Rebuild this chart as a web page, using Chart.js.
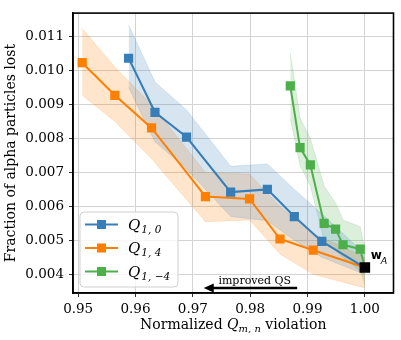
<!DOCTYPE html>
<html>
<head>
<meta charset="utf-8">
<script src="https://cdn.jsdelivr.net/npm/chart.js@4.4.0/dist/chart.umd.min.js"></script>
<style>
  html, body { margin: 0; padding: 0; background: #fff; }
  canvas { display: block; }
</style>
</head>
<body>
<canvas id="lossChart" width="401" height="340"></canvas>
<script>
// x: normalized Q_{m,n} violation, y: fraction of alpha particles lost
const q10X  = [0.9588, 0.9634, 0.9689, 0.9766, 0.9830, 0.9877, 0.9925, 1.0000];
const q10Y  = [0.01036, 0.00877, 0.00804, 0.00642, 0.00650, 0.00570, 0.00497, 0.00420];
const q10Hi = [0.01134, 0.00966, 0.00884, 0.00718, 0.00725, 0.00650, 0.00578, 0.00460];
const q10Lo = [0.00950, 0.00790, 0.00710, 0.00570, 0.00558, 0.00500, 0.00450, 0.00400];

const q14X  = [0.9507, 0.9564, 0.9628, 0.9722, 0.9799, 0.9852, 0.9910, 1.0000];
const q14Y  = [0.01023, 0.00927, 0.00831, 0.00629, 0.00622, 0.00504, 0.00471, 0.00420];
const q14Hi = [0.01124, 0.01010, 0.00900, 0.00700, 0.00695, 0.00600, 0.00520, 0.00450];
const q14Lo = [0.00927, 0.00850, 0.00740, 0.00555, 0.00560, 0.00460, 0.00400, 0.00360];

const q1m4X  = [0.9870, 0.9887, 0.9905, 0.9929, 0.9949, 0.9962, 0.9992, 1.0000];
const q1m4Y  = [0.00955, 0.00773, 0.00722, 0.00550, 0.00533, 0.00487, 0.00474, 0.00420];
const q1m4Hi = [0.01052, 0.00860, 0.00800, 0.00660, 0.00610, 0.00560, 0.00540, 0.00470];
const q1m4Lo = [0.00860, 0.00720, 0.00660, 0.00500, 0.00470, 0.00450, 0.00410, 0.00370];

// the reference configuration w_A
const wAX = [1.0];
const wAY = [0.0042];

const xTicks = [0.95, 0.96, 0.97, 0.98, 0.99, 1.00];
const yTicks = [0.004, 0.005, 0.006, 0.007, 0.008, 0.009, 0.010, 0.011];

const seriesLabels = ['1, 0', '1, 4', '1, \u22124'];

const BLUE = '#377eb8', ORANGE = '#ff7f00', GREEN = '#4daf4a';
const SERIF = '"DejaVu Serif", serif';

function pts(xs, ys) {
    return xs.map((x, i) => ({ x: x, y: ys[i] }));
}

function bandSets(xs, hi, lo, rgb) {
    const common = {
        pointRadius: 0,
        borderWidth: 0.8,
        borderColor: `rgba(${rgb},0.2)`,
        backgroundColor: `rgba(${rgb},0.2)`,
        order: 3
    };
    return [
        { ...common, data: pts(xs, hi), fill: '+1' },
        { ...common, data: pts(xs, lo), fill: false }
    ];
}

function lineSet(xs, ys, color) {
    return {
        data: pts(xs, ys),
        borderColor: color,
        backgroundColor: color,
        borderWidth: 2,
        fill: false,
        pointStyle: 'rect',
        pointRadius: ctx => ctx.dataIndex === xs.length - 1 ? 0 : 6.5,
        pointBorderWidth: 0,
        pointBackgroundColor: color,
        order: 1
    };
}

// frame, legend, x title, arrow note and w_A label
const decorations = {
    id: 'decorations',
    afterDatasetsDraw(chart) {
        const ctx = chart.ctx;
        const ca = chart.chartArea;
        const xs = chart.scales.x, ys = chart.scales.y;
        ctx.save();

        // frame
        ctx.strokeStyle = '#000';
        ctx.lineWidth = 1.6;
        ctx.strokeRect(ca.left, ca.top, ca.right - ca.left, ca.bottom - ca.top);

        // legend
        const bx = ca.left + 7, by = ca.bottom - 81, bw = 98, bh = 75;
        ctx.beginPath();
        ctx.roundRect(bx, by, bw, bh, 4);
        ctx.fillStyle = 'rgba(255,255,255,0.8)';
        ctx.fill();
        ctx.strokeStyle = '#d0d0d0';
        ctx.lineWidth = 1;
        ctx.stroke();
        const colors = [BLUE, ORANGE, GREEN];
        seriesLabels.forEach((lab, i) => {
            const ry = by + 12.5 + i * 23.5;
            ctx.strokeStyle = colors[i];
            ctx.lineWidth = 2;
            ctx.beginPath();
            ctx.moveTo(bx + 5, ry);
            ctx.lineTo(bx + 38, ry);
            ctx.stroke();
            ctx.fillStyle = colors[i];
            ctx.fillRect(bx + 17, ry - 4.5, 9, 9);
            ctx.fillStyle = '#000';
            ctx.textBaseline = 'alphabetic';
            ctx.textAlign = 'left';
            ctx.font = 'italic 15px ' + SERIF;
            ctx.fillText('Q', bx + 48, ry + 5);
            const qw = ctx.measureText('Q').width;
            ctx.font = 'italic 10.5px ' + SERIF;
            ctx.fillText(lab, bx + 48 + qw + 1, ry + 8);
        });

        // x axis title with subscript
        const parts = [
            { t: 'Normalized ', f: '14px ' + SERIF, dy: 0 },
            { t: 'Q', f: 'italic 14px ' + SERIF, dy: 0 },
            { t: 'm, n', f: 'italic 10px ' + SERIF, dy: 3 },
            { t: ' violation', f: '14px ' + SERIF, dy: 0 }
        ];
        let total = 0;
        parts.forEach(p => { ctx.font = p.f; p.w = ctx.measureText(p.t).width; total += p.w; });
        let tx = (ca.left + ca.right) / 2 - total / 2;
        ctx.fillStyle = '#000';
        parts.forEach(p => {
            ctx.font = p.f;
            ctx.fillText(p.t, tx, 329 + p.dy);
            tx += p.w;
        });

        // arrow "improved QS"
        const ay = ys.getPixelForValue(0.0036);
        const ax0 = xs.getPixelForValue(0.9882), ax1 = xs.getPixelForValue(0.9719);
        ctx.strokeStyle = '#000';
        ctx.lineWidth = 2.5;
        ctx.beginPath();
        ctx.moveTo(ax0, ay);
        ctx.lineTo(ax1 + 8, ay);
        ctx.stroke();
        ctx.beginPath();
        ctx.moveTo(ax1, ay);
        ctx.lineTo(ax1 + 10, ay - 4.5);
        ctx.lineTo(ax1 + 10, ay + 4.5);
        ctx.closePath();
        ctx.fillStyle = '#000';
        ctx.fill();
        ctx.font = '11px ' + SERIF;
        ctx.textAlign = 'center';
        ctx.fillText('improved QS', xs.getPixelForValue(0.9808), ay - 4);

        // w_A label
        const wx = xs.getPixelForValue(wAX[0]), wy = ys.getPixelForValue(wAY[0]);
        ctx.textAlign = 'left';
        ctx.font = 'bold 12px "DejaVu Sans", sans-serif';
        ctx.fillText('w', wx + 6, wy - 9);
        ctx.font = 'italic 9.5px "DejaVu Sans", sans-serif';
        ctx.fillText('A', wx + 16, wy - 4);

        ctx.restore();
    }
};

new Chart(document.getElementById('lossChart'), {
    type: 'line',
    data: {
        datasets: [
            ...bandSets(q10X, q10Hi, q10Lo, '55,126,184'),
            ...bandSets(q14X, q14Hi, q14Lo, '255,127,0'),
            ...bandSets(q1m4X, q1m4Hi, q1m4Lo, '77,175,74'),
            lineSet(q10X, q10Y, BLUE),
            lineSet(q14X, q14Y, ORANGE),
            lineSet(q1m4X, q1m4Y, GREEN),
            {
                data: pts(wAX, wAY),
                showLine: false,
                pointStyle: 'rect',
                pointRadius: 7.5,
                pointBorderWidth: 0,
                pointBackgroundColor: '#000',
                order: 0
            }
        ]
    },
    options: {
        responsive: false,
        devicePixelRatio: 1,
        animation: false,
        layout: { padding: { top: 6, right: 6, left: 0, bottom: 0 } },
        plugins: {
            legend: { display: false },
            tooltip: { enabled: false }
        },
        scales: {
            x: {
                type: 'linear',
                min: 0.9491,
                max: 1.005,
                afterBuildTicks: s => { s.ticks = xTicks.map(v => ({ value: v })); },
                afterFit: s => { s.height = 47; },
                ticks: {
                    autoSkip: false,
                    maxRotation: 0,
                    padding: 4,
                    color: '#000',
                    font: { family: 'DejaVu Serif', size: 13.5 },
                    callback: v => Number(v).toFixed(2)
                },
                grid: { color: '#d3d3d3', lineWidth: 1, tickLength: 4, tickColor: '#333' },
                border: { color: '#000', width: 1.6 }
            },
            y: {
                type: 'linear',
                min: 0.00345,
                max: 0.01169,
                afterBuildTicks: s => { s.ticks = yTicks.map(v => ({ value: v })); },
                afterFit: s => { s.width = 73; },
                ticks: {
                    autoSkip: false,
                    padding: 5,
                    color: '#000',
                    font: { family: 'DejaVu Serif', size: 13.5 },
                    callback: v => Number(v).toFixed(3)
                },
                grid: { color: '#d3d3d3', lineWidth: 1, tickLength: 4, tickColor: '#333' },
                border: { color: '#000', width: 1.6 },
                title: {
                    display: true,
                    text: 'Fraction of alpha particles lost',
                    color: '#000',
                    font: { family: 'DejaVu Serif', size: 14 },
                    padding: { top: 3, bottom: 0 }
                }
            }
        }
    },
    plugins: [decorations]
});
</script>
</body>
</html>
